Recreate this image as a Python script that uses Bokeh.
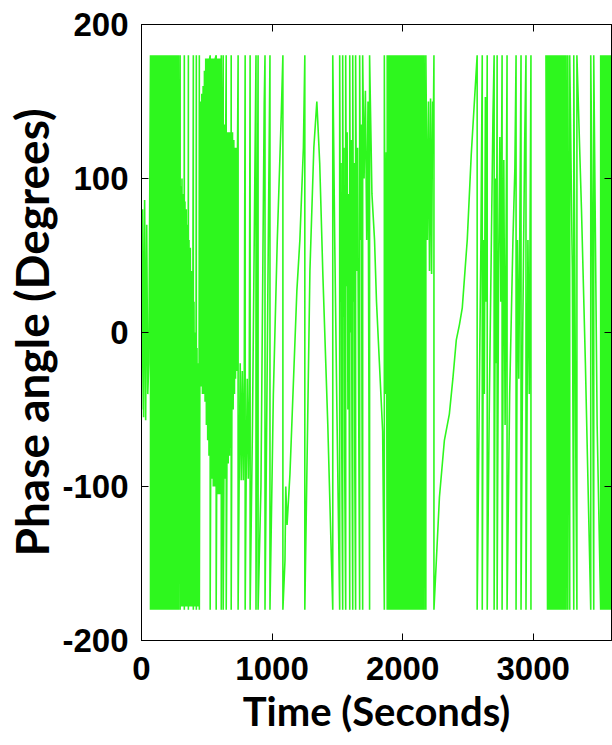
from bokeh.plotting import figure
from bokeh.models import Range1d, FixedTicker, LinearAxis, ColumnDataSource
from bokeh.embed import file_html
from bokeh.resources import INLINE

# ---- data (time in seconds, wrapped phase in degrees) ----
time_a = [0, 8, 16, 24, 32, 40, 48, 56, 69, 69, 80, 80, 90, 90,
          101, 101, 111, 111, 122, 122, 132, 132, 143, 143, 153, 153, 164, 164,
          175, 175, 185, 185, 196, 196, 206, 206, 217, 217, 228, 228, 238, 238,
          249, 249, 260, 260, 271, 271, 283, 283, 296, 296]
phase_a = [-50, 80, -55, 86, -57, 70, -40, -20, 180, -180, 180, -180, 180, -180,
           180, -180, 180, -180, 180, -180, 180, -180, 180, -180, 180, -180, 180, -180,
           180, -180, 180, -180, 180, -180, 180, -180, 180, -180, 180, -180, 180, -180,
           180, -180, 180, -180, 180, -180, 180, -180, 180, -180]

time_b = [300, 305, 310, 315, 320, 324, 328, 328, 333, 338, 343, 348, 353, 356, 359, 359,
          364, 369, 374, 379, 384, 389, 397, 397, 402, 407, 412, 416, 420, 420,
          425, 430, 435, 440, 443, 443]
phase_b = [95, -178, 100, -178, 90, -178, 180, -180, 85, -178, 80, -178, 70, -178, 180, -180,
           60, -178, 55, -178, 40, -178, 180, -180, 20, -178, 0, -178, 180, -180,
           -10, -178, -20, -178, 180, -180]

time_c = [447, 452, 457, 462, 467, 472, 477, 482, 487, 492, 497, 502, 507, 512, 517, 522,
          526, 526, 530, 535, 540, 545, 550, 555, 560, 565, 572, 572,
          576, 581, 586, 591, 596, 601, 606, 611, 611, 616, 621, 626, 626,
          631, 636, 641, 645, 649, 649, 654, 659, 664, 669, 674, 679, 684, 687, 687,
          692, 697, 702, 707, 712, 716, 720, 725, 730, 735, 740, 740]
phase_c = [-30, 150, -35, 155, -40, 160, -40, 170, -45, 178, -60, 178, -70, 178, -80, 178,
           180, -180, -90, 178, -95, 178, -100, 178, -100, 178, 180, -180,
           -100, 178, -105, 178, -105, 178, -105, 180, -180, -100, 140, 180, -180,
           -95, 135, -95, 130, 180, -180, -90, 130, -85, 130, -80, 130, -75, 180, -180,
           -60, 130, -50, 125, -40, 120, -30, 120, -25, 115, 180, -180]

time_d = [748, 756, 764, 772, 780, 787, 794, 794, 802, 810, 818, 825, 832, 832, 850,
          877, 877, 893, 893, 915, 940, 946, 946, 984, 984, 1010, 1040, 1070, 1083, 1083,
          1099, 1105, 1115, 1137, 1190, 1213, 1240, 1251, 1251,
          1290, 1320, 1343, 1365, 1389, 1427, 1465, 1465]
phase_d = [-96, -20, -96, -25, -96, -30, 180, -180, -90, -30, -95, -40, 180, -180, -60,
           180, -180, 180, -180, -100, 149, 180, -180, 180, -180, -40, 60, 140, 180, -180,
           -148, -100, -125, -92, 27, 60, 120, 180, -180,
           40, 120, 150, 110, 38, -60, -180, 180]

time_e = [1480, 1495, 1518, 1518, 1524, 1528, 1533, 1541, 1541, 1546, 1551, 1556, 1564, 1564,
          1570, 1575, 1581, 1587, 1595, 1595, 1601, 1606, 1612, 1618, 1618, 1624, 1629, 1634,
          1640, 1640, 1648, 1655, 1663, 1671, 1671, 1678, 1684, 1689, 1694, 1694,
          1705, 1715, 1725, 1735, 1747, 1747, 1765, 1785, 1800, 1847, 1860, 1860,
          1868, 1875, 1882, 1882]
phase_e = [60, -40, -180, 180, 20, 110, -60, -180, 180, 10, 120, -80, -180, 180,
           30, 130, -50, 90, -180, 180, 0, 125, -60, -180, 180, 20, 110, -90,
           -180, 180, 40, 120, -40, -180, 180, 60, 135, -50, -180, 180,
           100, 157, 60, 150, -180, 180, 90, 60, 20, -64, -180, 180,
           -40, 117, -180, 180]

time_f = [1892, 1892, 1902, 1902, 1912, 1912, 1922, 1922, 1931, 1931, 1941, 1941, 1951, 1951,
          1960, 1960, 1970, 1970, 1980, 1980, 1990, 1990, 2000, 2000, 2010, 2010, 2020, 2020,
          2030, 2030, 2040, 2040, 2050, 2050, 2060, 2060, 2070, 2070, 2080, 2080, 2090, 2090,
          2100, 2100, 2110, 2110, 2120, 2120, 2131, 2131, 2142, 2142, 2153, 2153, 2165, 2165,
          2178, 2178, 2190, 2198, 2206, 2214, 2222, 2230, 2236, 2240, 2240]
phase_f = [-180, 180, -180, 180, -180, 180, -180, 180, -180, 180, -180, 180, -180, 180,
           -180, 180, -180, 180, -180, 180, -180, 180, -180, 180, -180, 180, -180, 180,
           -180, 180, -180, 180, -180, 180, -180, 180, -180, 180, -180, 180, -180, 180,
           -180, 180, -180, 180, -180, 180, -180, 180, -180, 180, -180, 180, -180, 180,
           -180, 180, 60, 150, 40, 152, 38, 150, 140, 180, -180]

time_g = [2282, 2320, 2358, 2385, 2411, 2435, 2457, 2495, 2526, 2571, 2571,
          2590, 2600, 2610, 2610]
phase_g = [-107, -70, -53, -30, -5, 5, 16, 60, 116, 180, -180,
           -20, 60, 180, -180]

time_h = [2620, 2626, 2634, 2640, 2648, 2648, 2665, 2680, 2692, 2701, 2701, 2712, 2718,
          2724, 2724, 2735, 2745, 2752, 2762, 2762, 2775, 2785, 2800, 2800,
          2820, 2845, 2860, 2869, 2869, 2880, 2890, 2907, 2907, 2920, 2935,
          2945, 2945, 2960, 2970, 2983, 2983]
phase_h = [60, -40, 153, 20, 180, -180, -40, 60, 140, 180, -180, 100, -20,
           180, -180, 40, 127, 20, 180, -180, 112, -60, 180, -180,
           -40, 60, 107, 180, -180, 60, -30, 180, -180, 0, 123,
           180, -180, 60, -40, 180, -180]

# record resumes after a gap with no samples
time_i = [3098, 3110, 3110, 3121, 3121, 3132, 3132, 3142, 3142, 3153, 3153, 3163, 3163,
          3174, 3174, 3185, 3185, 3196, 3196, 3207, 3207, 3218, 3218, 3229, 3229,
          3240, 3240, 3252, 3252, 3265, 3265, 3280, 3280,
          3300, 3311, 3311, 3325, 3335, 3335, 3370, 3400, 3441, 3441, 3452, 3464, 3464,
          3490, 3517, 3517, 3528, 3528, 3538, 3538, 3549, 3549, 3560, 3560, 3570, 3570,
          3581, 3581, 3592, 3592, 3600]
phase_i = [180, -180, 180, -180, 180, -180, 180, -180, 180, -180, 180, -180, 180,
           -180, 180, -180, 180, -180, 180, -180, 180, -180, 180, -180, 180,
           -180, 180, -180, 180, -180, 180, -180, 180,
           40, -180, 180, -60, -180, 180, 80, -20, -180, 180, 81, -180, 180,
           -60, -180, 180, -180, 180, -180, 180, -180, 180, -180, 180, -180, 180,
           -180, 180, -180, 180, 60]

x_ticks = [0, 1000, 2000, 3000]
x_tick_labels = ["0", "1000", "2000", "3000"]
y_ticks = [-200, -100, 0, 100, 200]
y_tick_labels = ["-200", "-100", "0", "100", "200"]

GREEN = "#2EF71E"

src_main = ColumnDataSource(dict(
    t=time_a + time_b + time_c + time_d + time_e + time_f + time_g + time_h,
    phase=phase_a + phase_b + phase_c + phase_d + phase_e + phase_f + phase_g + phase_h))
src_tail = ColumnDataSource(dict(t=time_i, phase=phase_i))

p = figure(width=612, height=745, output_backend="svg", toolbar_location=None,
           x_range=Range1d(0, 3600), y_range=Range1d(-200, 200),
           min_border_left=141, min_border_right=1, min_border_top=24, min_border_bottom=105)

p.line("t", "phase", source=src_main, line_color=GREEN, line_width=1.6)
p.line("t", "phase", source=src_tail, line_color=GREEN, line_width=1.6)

p.xgrid.grid_line_color = None
p.ygrid.grid_line_color = None
p.outline_line_color = "black"
p.outline_line_width = 1
p.background_fill_color = "white"
p.border_fill_color = "white"

xa = p.xaxis[0]
ya = p.yaxis[0]
xa.ticker = FixedTicker(ticks=x_ticks)
ya.ticker = FixedTicker(ticks=y_ticks)
xa.major_label_overrides = dict(zip(x_ticks, x_tick_labels))
ya.major_label_overrides = dict(zip(y_ticks, y_tick_labels))

for ax in (xa, ya):
    ax.major_tick_in = 7
    ax.major_tick_out = 0
    ax.minor_tick_line_color = None
    ax.axis_line_color = "black"
    ax.major_tick_line_color = "black"
    ax.major_label_text_font = "Liberation Sans"
    ax.major_label_text_font_style = "bold"
    ax.major_label_text_font_size = "33px"
    ax.major_label_text_color = "black"
    ax.axis_label_text_font = "Lato"
    ax.axis_label_text_font_style = "bold"
    ax.axis_label_text_color = "black"

xa.axis_label = "Time (Seconds)"
ya.axis_label = "Phase angle (Degrees)"
xa.axis_label_text_font_size = "40px"
ya.axis_label_text_font_size = "46px"
xa.major_label_standoff = 16
xa.axis_label_standoff = 4
ya.major_label_standoff = 13
ya.axis_label_standoff = 0

top = LinearAxis(ticker=FixedTicker(ticks=x_ticks), major_label_text_font_size="1px",
                 major_label_text_color=None, major_label_standoff=0,
                 major_tick_in=7, major_tick_out=0,
                 minor_tick_line_color=None, axis_line_color="black")
right = LinearAxis(ticker=FixedTicker(ticks=y_ticks), major_label_text_font_size="1px",
                   major_label_text_color=None, major_label_standoff=0,
                   major_tick_in=7, major_tick_out=0,
                   minor_tick_line_color=None, axis_line_color="black")
p.add_layout(top, "above")
p.add_layout(right, "right")

open("out.html", "w").write(file_html(p, INLINE))
